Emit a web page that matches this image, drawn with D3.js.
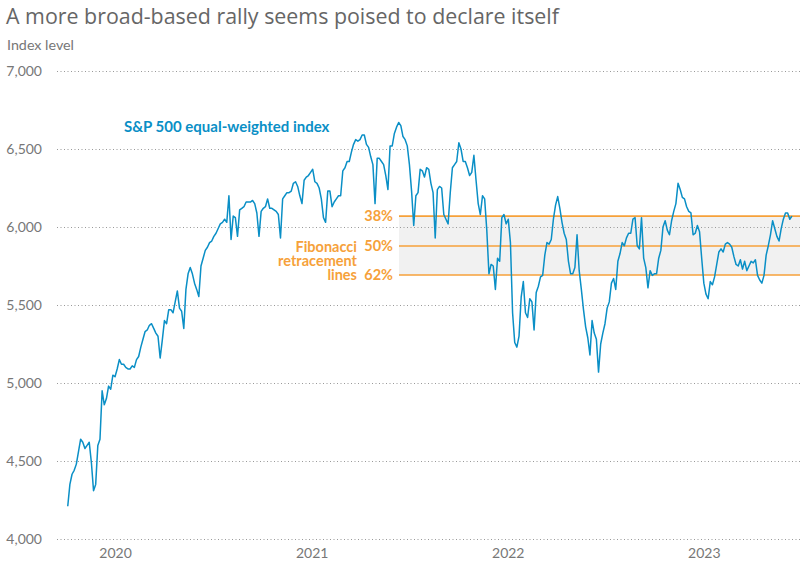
<!DOCTYPE html>
<html>
<head>
<meta charset="utf-8">
<script src="https://cdn.jsdelivr.net/npm/d3@7"></script>
<style>
  body { margin: 0; background: #fff; }
  svg { font-family: Lato, "Open Sans", sans-serif; }
</style>
</head>
<body>
<svg class="mainSvg"></svg>
<script>
(function () {
  // ===========================================================================
  //     data area
  // ===========================================================================
  const startDate = '2019-10-05';
  const stepDays = 4;
  const indexValues = [
    4210, 4350, 4415, 4440, 4480, 4560, 4640, 4620, 4580, 4600,
    4620, 4490, 4310, 4350, 4600, 4640, 4950, 4860, 4900, 4980,
    4960, 5050, 5040, 5090, 5150, 5120, 5120, 5100, 5090, 5090,
    5110, 5100, 5150, 5170, 5230, 5280, 5330, 5340, 5370, 5380,
    5350, 5320, 5300, 5160, 5275, 5400, 5380, 5470, 5470, 5450,
    5520, 5590, 5480, 5460, 5350, 5600, 5700, 5740, 5700, 5640,
    5600, 5555, 5750, 5800, 5850, 5870, 5900, 5910, 5940, 5960,
    5990, 6020, 6030, 6050, 6030, 6200, 5920, 6070, 6060, 5940,
    6110, 6120, 6130, 6160, 6160, 6160, 6170, 6150, 6090, 5940,
    6100, 6120, 6130, 6180, 6120, 6120, 6110, 6100, 6080, 5930,
    6180, 6200, 6220, 6220, 6230, 6280, 6290, 6260, 6200, 6150,
    6300, 6320, 6330, 6350, 6370, 6290, 6280, 6250, 6180, 6060,
    6030, 6230, 6230, 6130, 6160, 6180, 6200, 6200, 6360, 6380,
    6420, 6420, 6480, 6530, 6560, 6550, 6560, 6590, 6590, 6530,
    6510, 6450, 6400, 6150, 6440, 6440, 6420, 6400, 6330, 6240,
    6520, 6520, 6600, 6640, 6670, 6650, 6580, 6560, 6520, 6400,
    6230, 6010, 6200, 6220, 6370, 6360, 6320, 6380, 6370, 6280,
    6220, 5930, 6240, 6260, 6250, 6080, 6050, 6020, 6220, 6380,
    6400, 6420, 6540, 6500, 6420, 6420, 6380, 6330, 6350, 6460,
    6300, 6150, 6080, 6200, 6180, 5980, 5700, 5760, 5750, 5600,
    5800, 5780, 6060, 6080, 6020, 6050, 5900, 5450, 5260, 5230,
    5300, 5550, 5650, 5450, 5420, 5540, 5520, 5340, 5580, 5620,
    5680, 5690, 5820, 5900, 5890, 5920, 6050, 6140, 6195, 6120,
    6030, 5960, 5920, 5780, 5700, 5700, 5740, 5950, 5720, 5600,
    5470, 5360, 5290, 5180, 5400, 5320, 5280, 5070, 5250, 5320,
    5380, 5480, 5520, 5640, 5670, 5600, 5780, 5830, 5900, 5880,
    5930, 5960, 5960, 6050, 6060, 5880, 5860, 6060, 5800, 5740,
    5610, 5720, 5690, 5700, 5700, 5800, 5850, 6000, 6040, 5980,
    5950, 6040, 6100, 6150, 6280, 6240, 6190, 6180, 6130, 6100,
    6090, 5950, 5960, 6010, 5970, 5800, 5640, 5570, 5540, 5650,
    5630, 5680, 5760, 5840, 5860, 5840, 5890, 5900, 5890, 5870,
    5810, 5760, 5750, 5790, 5730, 5780, 5720, 5750, 5780, 5770,
    5790, 5690, 5660, 5640, 5690, 5820, 5880, 5950, 6040, 5990,
    5940, 5910, 5990, 6050, 6090, 6090, 6050, 6070,
  ];

  const yTicks = [4000, 4500, 5000, 5500, 6000, 6500, 7000];
  const yearTicks = ['2020-01-01', '2021-01-01', '2022-01-01', '2023-01-01'];
  const fibLevels = [6070, 5878, 5692];
  const fibLabels = ['38%', '50%', '62%'];
  const fibTitle = ['Fibonacci', 'retracement', 'lines'];

  const initWidth = 800;
  const initHeight = 574;
  const plotLeft = 57;
  const plotRight = 800;
  const bandLeft = 399;
  const blue = '#0a8fc6';
  const orange = '#f6a13a';

  // ===========================================================================
  //      procedure
  // ===========================================================================
  const parse = d3.timeParse('%Y-%m-%d');
  const t0 = parse(startDate);
  const series = indexValues.map(function (v, i) {
    return { date: d3.timeDay.offset(t0, i * stepDays), value: v };
  });

  const svg = d3.select('.mainSvg')
    .attr('width', initWidth)
    .attr('height', initHeight);

  const x = d3.scaleTime()
    .domain([parse('2019-09-15'), parse('2023-06-29')])
    .range([plotLeft, plotRight]);
  const y = d3.scaleLinear()
    .domain([4000, 7000])
    .range([539, 71]);

  // title
  svg.append('text')
    .attr('x', 6)
    .attr('y', 24)
    .attr('fill', '#666')
    .attr('font-family', '"Open Sans", sans-serif')
    .attr('font-size', 21.4)
    .text('A more broad-based rally seems poised to declare itself');

  svg.append('text')
    .attr('x', 7)
    .attr('y', 50)
    .attr('fill', '#777')
    .attr('font-size', 14.3)
    .text('Index level');

  // fibonacci band
  svg.append('rect')
    .attr('x', bandLeft)
    .attr('y', y(fibLevels[0]))
    .attr('width', plotRight - bandLeft)
    .attr('height', y(fibLevels[2]) - y(fibLevels[0]))
    .attr('fill', '#f1f1f1');

  // y grid + labels
  const yAxis = svg.append('g')
    .attr('transform', `translate(${plotLeft},0)`)
    .call(d3.axisLeft(y)
      .tickValues(yTicks)
      .tickSize(-(plotRight - plotLeft))
      .tickPadding(15)
      .tickFormat(d3.format(',')));
  yAxis.select('.domain').remove();
  yAxis.selectAll('line')
    .attr('stroke', '#999')
    .attr('stroke-dasharray', '1,2.5');
  yAxis.selectAll('text')
    .attr('fill', '#777')
    .attr('font-size', 14)
    .attr('font-family', 'Lato, "Open Sans", sans-serif');

  // x labels
  const xAxis = svg.append('g')
    .attr('transform', 'translate(0,548)')
    .call(d3.axisBottom(x)
      .tickValues(yearTicks.map(parse))
      .tickSize(0)
      .tickPadding(0)
      .tickFormat(d3.timeFormat('%Y')));
  xAxis.select('.domain').remove();
  xAxis.selectAll('text')
    .attr('fill', '#777')
    .attr('font-size', 14)
    .attr('font-family', 'Lato, "Open Sans", sans-serif');

  // fibonacci lines
  svg.append('g')
    .selectAll('line')
    .data(fibLevels)
    .enter()
    .append('line')
    .attr('x1', bandLeft)
    .attr('x2', plotRight)
    .attr('y1', d => y(d))
    .attr('y2', d => y(d))
    .attr('stroke', orange)
    .attr('stroke-width', 1.6);

  svg.append('g')
    .selectAll('text')
    .data(fibLevels)
    .enter()
    .append('text')
    .attr('x', 393)
    .attr('y', d => y(d) + 5)
    .attr('text-anchor', 'end')
    .attr('fill', orange)
    .attr('font-weight', 'bold')
    .attr('font-size', 14.5)
    .text((d, i) => fibLabels[i]);

  // one text block, three lines
  svg.append('text')
    .attr('x', 357)
    .attr('y', 252)
    .attr('text-anchor', 'end')
    .attr('fill', orange)
    .attr('font-weight', 'bold')
    .attr('font-size', 14.5)
    .selectAll('tspan')
    .data(fibTitle)
    .enter()
    .append('tspan')
    .attr('x', 357)
    .attr('dy', (d, i) => (i === 0 ? 0 : 14.2))
    .text(d => d);

  // index line
  const line = d3.line()
    .x(d => x(d.date))
    .y(d => y(d.value));

  svg.append('path')
    .datum(series)
    .attr('d', line)
    .attr('fill', 'none')
    .attr('stroke', blue)
    .attr('stroke-width', 1.5)
    .attr('stroke-linejoin', 'round');

  svg.append('text')
    .attr('x', 124)
    .attr('y', 132)
    .attr('fill', blue)
    .attr('font-weight', 'bold')
    .attr('font-size', 15)
    .text('S&P 500 equal-weighted index');
})();
</script>
</body>
</html>
